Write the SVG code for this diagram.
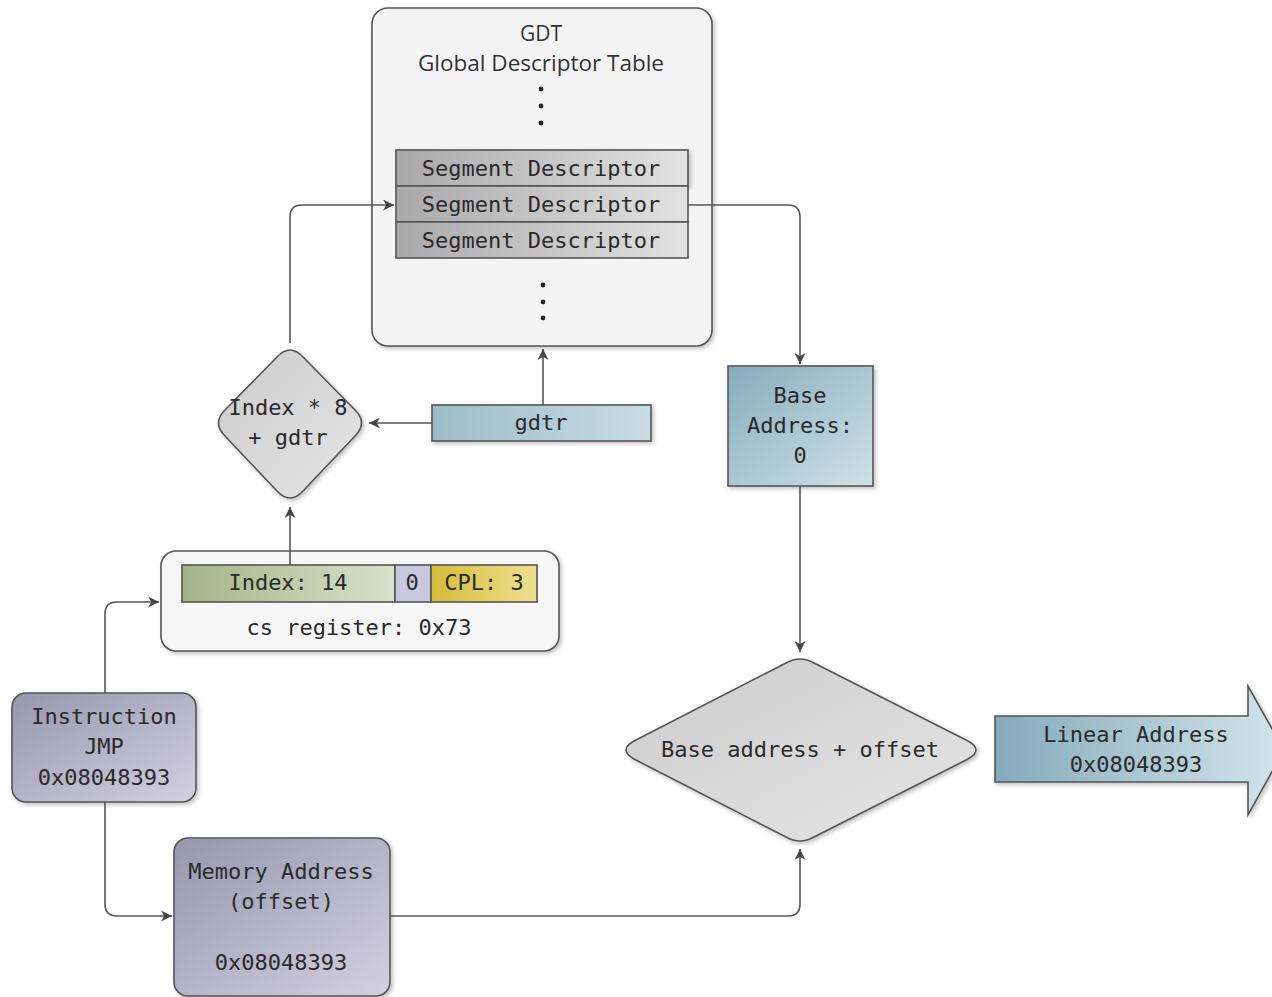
<svg xmlns="http://www.w3.org/2000/svg" width="1272" height="997" viewBox="0 0 1272 997">
<defs>
<style>
.mono{font-family:"DejaVu Sans Mono","Liberation Mono",monospace;font-size:22px;fill:#2a2a2a;text-anchor:middle;dominant-baseline:central}
.sans{font-family:"Open Sans","Liberation Sans",sans-serif;font-size:21px;fill:#333;text-anchor:middle;dominant-baseline:central}
.edge{fill:none;stroke:#555;stroke-width:1.6}
.ol{stroke:#555;stroke-width:1.6}
</style>
<marker id="ah" viewBox="0 0 10 10" refX="10" refY="5" markerWidth="11" markerHeight="11" markerUnits="userSpaceOnUse" orient="auto">
<path d="M0,0 L10,5 L0,10 L3,5 z" fill="#444"/>
</marker>
<linearGradient id="gSeg" x1="0" y1="0" x2="1" y2="0"><stop offset="0" stop-color="#a9a9a9"/><stop offset="1" stop-color="#e2e2e2"/></linearGradient>
<linearGradient id="gTeal" x1="0" y1="0" x2="1" y2="1"><stop offset="0" stop-color="#86adbd"/><stop offset="1" stop-color="#cfe1e7"/></linearGradient>
<linearGradient id="gTealL" x1="0" y1="0" x2="1" y2="0"><stop offset="0" stop-color="#9cbdc9"/><stop offset="1" stop-color="#c8dce3"/></linearGradient>
<linearGradient id="gTealH" x1="0" y1="0" x2="1" y2="0"><stop offset="0" stop-color="#84abbb"/><stop offset="1" stop-color="#d3e4ea"/></linearGradient>
<linearGradient id="gPurp" x1="0" y1="0" x2="1" y2="1"><stop offset="0" stop-color="#9896ae"/><stop offset="1" stop-color="#d2d0e0"/></linearGradient>
<linearGradient id="gGray" x1="0" y1="0" x2="1" y2="1"><stop offset="0" stop-color="#cbcbcb"/><stop offset="1" stop-color="#e6e6e6"/></linearGradient>
<linearGradient id="gGreen" x1="0" y1="0" x2="1" y2="0"><stop offset="0" stop-color="#a4b487"/><stop offset="1" stop-color="#d9e1c9"/></linearGradient>
<linearGradient id="gYel" x1="0" y1="0" x2="1" y2="0"><stop offset="0" stop-color="#d6bc3a"/><stop offset="1" stop-color="#eee090"/></linearGradient>
<filter id="sh" x="-10%" y="-10%" width="125%" height="125%"><feDropShadow dx="2" dy="2" stdDeviation="2" flood-color="#000" flood-opacity="0.25"/></filter>
</defs>
<rect width="1272" height="997" fill="#fff"/>

<g id="gdt">
<rect x="372" y="8" width="340" height="338" rx="16" fill="#f4f4f4" class="ol" filter="url(#sh)"/>
<text class="sans" x="541" y="33">GDT</text>
<text class="sans" x="541" y="63" textLength="246" lengthAdjust="spacingAndGlyphs">Global Descriptor Table</text>
<circle cx="541" cy="89" r="2.4" fill="#222"/>
<circle cx="541" cy="106" r="2.4" fill="#222"/>
<circle cx="541" cy="123" r="2.4" fill="#222"/>
<circle cx="543" cy="285" r="2.4" fill="#222"/>
<circle cx="543" cy="302" r="2.4" fill="#222"/>
<circle cx="543" cy="318" r="2.4" fill="#222"/>
</g>

<g id="segdesc">
<rect x="396" y="150" width="292" height="36" fill="url(#gSeg)" class="ol" filter="url(#sh)"/>
<rect x="396" y="186" width="292" height="36" fill="url(#gSeg)" class="ol"/>
<rect x="396" y="222" width="292" height="36" fill="url(#gSeg)" class="ol"/>
<text class="mono" x="541" y="168">Segment Descriptor</text>
<text class="mono" x="541" y="204">Segment Descriptor</text>
<text class="mono" x="541" y="240">Segment Descriptor</text>
</g>

<g id="base">
<rect x="728" y="366" width="145" height="120" fill="url(#gTeal)" class="ol" filter="url(#sh)"/>
<text class="mono" x="800" y="395">Base</text>
<text class="mono" x="800" y="425">Address:</text>
<text class="mono" x="800" y="455">0</text>
</g>

<g id="gdtr">
<rect x="432" y="405" width="219" height="36" fill="url(#gTealL)" class="ol" filter="url(#sh)"/>
<text class="mono" x="541" y="422">gdtr</text>
</g>

<g id="idxdiamond">
<path d="M277,357 Q290,343 303,357 L355,410 Q368,423 355,436 L303,491 Q290,505 277,491 L225,436 Q212,423 225,410 Z" fill="url(#gGray)" class="ol" filter="url(#sh)"/>
<text class="mono" x="288" y="407">Index * 8</text>
<text class="mono" x="288" y="437">+ gdtr</text>
</g>

<g id="cs">
<rect x="161" y="551" width="398" height="100" rx="15" fill="#f6f6f6" class="ol" filter="url(#sh)"/>
<rect x="182" y="565" width="213" height="37" fill="url(#gGreen)" class="ol"/>
<rect x="395" y="565" width="36" height="37" fill="#c9c8de" class="ol"/>
<rect x="431" y="565" width="106" height="37" fill="url(#gYel)" class="ol"/>
<text class="mono" x="288" y="582">Index: 14</text>
<text class="mono" x="412" y="582">0</text>
<text class="mono" x="484" y="582">CPL: 3</text>
<text class="mono" x="359" y="627">cs register: 0x73</text>
</g>

<g id="instr">
<rect x="12" y="693" width="184" height="109" rx="14" fill="url(#gPurp)" class="ol" filter="url(#sh)"/>
<text class="mono" x="104" y="716">Instruction</text>
<text class="mono" x="104" y="746">JMP</text>
<text class="mono" x="104" y="777">0x08048393</text>
</g>

<g id="mem">
<rect x="174" y="838" width="216" height="158" rx="14" fill="url(#gPurp)" class="ol" filter="url(#sh)"/>
<text class="mono" x="281" y="871">Memory Address</text>
<text class="mono" x="281" y="901">(offset)</text>
<text class="mono" x="281" y="962">0x08048393</text>
</g>

<g id="sumdiamond">
<path d="M786,663 Q800,655 814,663 L968,741 Q984,750 968,759 L814,837 Q800,845 786,837 L634,759 Q618,750 634,741 Z" fill="url(#gGray)" class="ol" filter="url(#sh)"/>
<text class="mono" x="800" y="749">Base address + offset</text>
</g>

<g id="linear">
<path d="M995,716 H1248 V686 L1284,750 L1248,815 V782 H995 Z" fill="url(#gTealH)" class="ol" filter="url(#sh)"/>
<text class="mono" x="1136" y="734">Linear Address</text>
<text class="mono" x="1136" y="764">0x08048393</text>
</g>

<g id="connectors">
<path class="edge" d="M290,343 V217 Q290,205 302,205 H394" marker-end="url(#ah)"/>
<path class="edge" d="M688,205 H788 Q800,205 800,217 V364" marker-end="url(#ah)"/>
<path class="edge" d="M800,486 V652" marker-end="url(#ah)"/>
<path class="edge" d="M543,405 V349" marker-end="url(#ah)"/>
<path class="edge" d="M432,423 H369" marker-end="url(#ah)"/>
<path class="edge" d="M290,565 V507" marker-end="url(#ah)"/>
<path class="edge" d="M105,693 V614 Q105,602 117,602 H159" marker-end="url(#ah)"/>
<path class="edge" d="M105,802 V904 Q105,916 117,916 H172" marker-end="url(#ah)"/>
<path class="edge" d="M390,916 H788 Q800,916 800,904 V849" marker-end="url(#ah)"/>
</g>
</svg>
